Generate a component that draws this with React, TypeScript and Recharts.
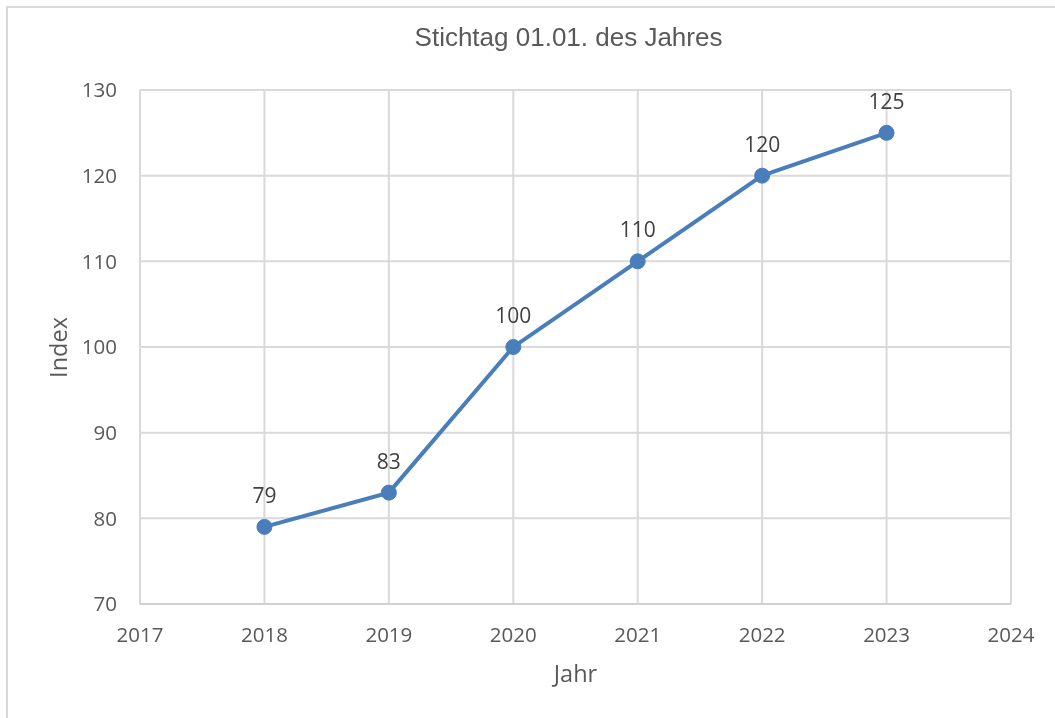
import React from "react";
import { LineChart, Line, XAxis, YAxis, CartesianGrid, LabelList } from "recharts";

const years = [2018, 2019, 2020, 2021, 2022, 2023];
const indexValues = [79, 83, 100, 110, 120, 125];
const xTicks = [2017, 2018, 2019, 2020, 2021, 2022, 2023, 2024];
const yTicks = [70, 80, 90, 100, 110, 120, 130];
const chartTitle = "Stichtag 01.01. des Jahres";
const xTitle = "Jahr";
const yTitle = "Index";

const data = years.map((y, i) => ({ year: y, index: indexValues[i] }));

const W = 1039;
const H = 700;
const M = { top: 82, right: 36, bottom: 0, left: 0 };
const Y_W = 132;
const X_H = 104;

const TICK_FONT = { fontFamily: "'Open Sans', sans-serif", fontSize: 20.5, fill: "#595959" };

export default function App() {
  const plotCx = M.left + Y_W + (W - M.left - Y_W - M.right) / 2;
  return (
    <div style={{ position: "relative" }}>
      <div
        style={{
          position: "fixed",
          left: 6,
          top: 6,
          right: 0,
          bottom: 0,
          borderLeft: "2px solid #d9d9d9",
          borderTop: "2px solid #d9d9d9",
          pointerEvents: "none",
        }}
      />
      <LineChart width={W} height={H} data={data} margin={M}>
        <CartesianGrid stroke="#d9d9d9" strokeWidth={2} />
        <XAxis
          dataKey="year"
          type="number"
          domain={[2017, 2024]}
          ticks={xTicks}
          allowDecimals={false}
          height={X_H}
          tickSize={0}
          tickMargin={23}
          tickLine={false}
          axisLine={{ stroke: "#d0d0d0", strokeWidth: 2 }}
          tick={TICK_FONT}
          interval={0}
        />
        <YAxis
          type="number"
          domain={[70, 130]}
          ticks={yTicks}
          width={Y_W}
          tickSize={0}
          tickMargin={23}
          tickLine={false}
          axisLine={false}
          tick={TICK_FONT}
          interval={0}
        />
        <Line
          type="linear"
          dataKey="index"
          stroke="#4a7ebb"
          strokeWidth={4}
          dot={{ r: 7.5, fill: "#4a7ebb", stroke: "#4a7ebb", strokeWidth: 1 }}
          activeDot={false}
          isAnimationActive={false}
        >
          <LabelList
            dataKey="index"
            position="top"
            offset={24}
            style={{ fontFamily: "'Open Sans', sans-serif", fontSize: 21, fill: "#404040" }}
          />
        </Line>
        <text
          x={plotCx - 7}
          y={38}
          textAnchor="middle"
          style={{ fontFamily: "'Liberation Sans', Arial, sans-serif", fontSize: 26, fill: "#595959" }}
        >
          {chartTitle}
        </text>
        <text
          x={plotCx}
          y={674}
          textAnchor="middle"
          style={{ fontFamily: "'Open Sans', sans-serif", fontSize: 23.5, fill: "#595959" }}
        >
          {xTitle}
        </text>
        <text
          x={0}
          y={0}
          transform="translate(49.5,339.5) rotate(-90)"
          textAnchor="middle"
          dominantBaseline="central"
          style={{ fontFamily: "'Open Sans', sans-serif", fontSize: 23.5, fill: "#595959" }}
        >
          {yTitle}
        </text>
      </LineChart>
    </div>
  );
}
